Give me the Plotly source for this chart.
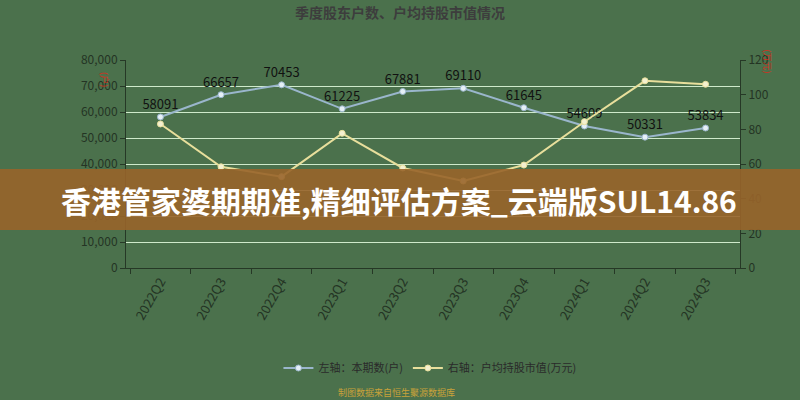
import plotly.graph_objects as go

categories = ["2022Q2", "2022Q3", "2022Q4", "2023Q1", "2023Q2", "2023Q3",
              "2023Q4", "2024Q1", "2024Q2", "2024Q3"]
holders = [58091, 66657, 70453, 61225, 67881, 69110, 61645, 54609, 50331, 53834]
avg_value = [83.1, 58.4, 52.7, 77.7, 57.7, 50.2, 59.4, 84.4, 108.0, 106.0]

left_ticks = [0, 10000, 20000, 30000, 40000, 50000, 60000, 70000, 80000]
right_ticks = [0, 20, 40, 60, 80, 100, 120]

FONT = "Noto Sans CJK SC"
BG = "#4b714c"
AXIS = "#263826"
TICKC = "#243424"

fig = go.Figure()
fig.add_trace(go.Scatter(
    x=categories, y=holders, name="左轴：本期数(户)",
    mode="lines+markers+text", text=[str(v) for v in holders],
    textposition="top center",
    textfont=dict(family=FONT, size=13, color="#111111"),
    line=dict(color="#9ab6cc", width=2),
    marker=dict(size=6, color="#e6f0f6", line=dict(color="#9ab6cc", width=1)),
    yaxis="y", cliponaxis=False,
))
fig.add_trace(go.Scatter(
    x=categories, y=avg_value, name="右轴：户均持股市值(万元)",
    mode="lines+markers",
    line=dict(color="#e8df9c", width=2),
    marker=dict(size=6, color="#f4f0d0", line=dict(color="#e8df9c", width=1)),
    yaxis="y2", cliponaxis=False,
))

fig.update_layout(
    width=800, height=400,
    margin=dict(l=126, r=60, t=60, b=132, autoexpand=False),
    paper_bgcolor=BG, plot_bgcolor=BG,
    font=dict(family=FONT, color=TICKC, size=12),
    title=dict(text="<b>季度股东户数、户均持股市值情况</b>", x=0.5, xanchor="center",
               y=0.9675, yanchor="middle",
               font=dict(family=FONT, size=14, color="#3d3d3d")),
    showlegend=True,
    legend=dict(orientation="h", x=0.495, xanchor="center", yref="container",
                y=0.08, yanchor="middle",
                font=dict(family=FONT, size=11, color="#2a2a2a"),
                bgcolor="rgba(0,0,0,0)", itemwidth=30),
    xaxis=dict(type="category", showgrid=False, showline=True, linecolor=AXIS,
               linewidth=1, ticks="outside", tickcolor=AXIS, ticklen=5,
               tickson="boundaries", tickangle=-60, automargin=False,
               tickfont=dict(family=FONT, size=13, color=TICKC)),
    yaxis=dict(range=[0, 80000], tickvals=left_ticks, tickformat=",",
               showgrid=True, gridcolor="#cfeacb", gridwidth=1,
               showline=True, linecolor=AXIS, ticks="outside", tickcolor=AXIS,
               ticklen=5, zeroline=False, automargin=False,
               tickfont=dict(family=FONT, size=12, color=TICKC)),
    yaxis2=dict(range=[0, 120], tickvals=right_ticks, overlaying="y", side="right",
                showgrid=False, showline=True, linecolor=AXIS, ticks="outside",
                tickcolor=AXIS, ticklen=5, zeroline=False, automargin=False,
                tickfont=dict(family=FONT, size=12, color=TICKC)),
)

# unit labels (red, vertical)
fig.add_annotation(text="(户)", xref="paper", yref="paper", x=-0.05, y=0.95,
                   showarrow=False, textangle=90,
                   font=dict(family=FONT, size=9, color="#d03020"))
fig.add_annotation(text="(万元)", xref="paper", yref="paper", x=1.058, y=1.06,
                   showarrow=False, textangle=90,
                   font=dict(family=FONT, size=9, color="#d03020"))

# footnote
fig.add_annotation(text="制图数据来自恒生聚源数据库", xref="paper", yref="paper",
                   x=0.44, y=-0.6, xanchor="center", yanchor="middle", showarrow=False,
                   font=dict(family=FONT, size=9, color="#c9a23a"))

# overlay banner
fig.add_shape(type="rect", xref="paper", yref="paper", x0=-0.25, x1=1.15,
              y0=0.183, y1=0.476, fillcolor="rgba(152,100,42,0.9)", line_width=0,
              layer="above")
fig.add_annotation(text="<b>香港管家婆期期准,精细评估方案_云端版SUL14.86</b>",
                   xref="paper", yref="paper", x=0.445, y=0.325,
                   xanchor="center", yanchor="middle", showarrow=False,
                   font=dict(family=FONT, size=30, color="#ffffff"))

fig.write_html("out.html", config={"displayModeBar": False},
               post_script="document.body.style.margin='0';document.body.style.padding='0';")
